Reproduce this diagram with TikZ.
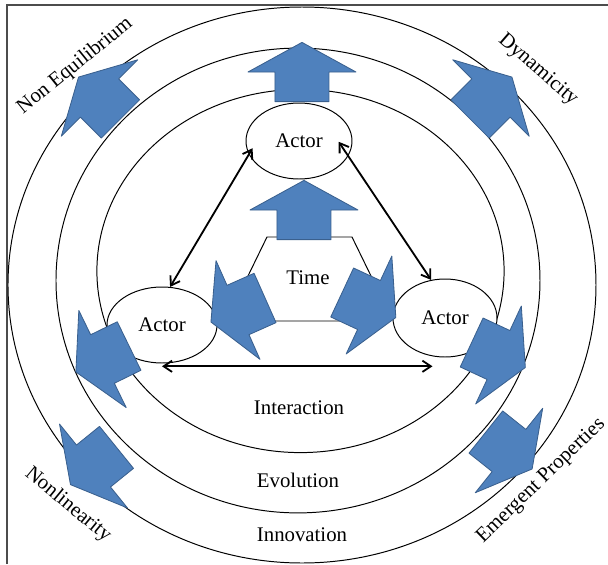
\documentclass[tikz,border=0pt]{standalone}
\usepackage{fontspec}
\setmainfont{Liberation Serif}
\usetikzlibrary{shapes.geometric,arrows.meta}
\definecolor{bluarrow}{RGB}{79,129,189}
\definecolor{bordoarrow}{RGB}{58,96,142}
\tikzset{
  attore/.style={ellipse, draw, fill=white, line width=0.7pt, inner sep=0pt},
  cerchio/.style={line width=0.7pt},
  freccia/.style={<->, line width=1.3pt},
  pics/frecciona/.style={code={
    \filldraw[fill=bluarrow, draw=bordoarrow, line width=0.6pt, line join=round]
      (0.74,0) -- (0,1.35) -- (0,0.675) -- (-0.74,0.675) -- (-0.74,-0.675)
      -- (0,-0.675) -- (0,-1.35) -- cycle;}}
}

\begin{document}
\begin{tikzpicture}[>={Straight Barb[length=6pt,width=8pt]}, font=\fontsize{14.8}{17}\selectfont]
\useasboundingbox (-7.5,-7.1) rectangle (7.7,7.0);

% Cornice
\draw[line width=0.9pt, black!70] (-7.325,-7.1) -- (-7.325,6.875) -- (7.7,6.875);

% Ellissi concentriche
\draw[cerchio] (0.05,-0.125) ellipse (7.35 and 6.95);
\draw[cerchio] (-0.05,-0.0125) ellipse (6.05 and 5.81);
\draw[cerchio] (0.0125,0.225) ellipse (5.09 and 4.54);

% Tempo (esagono)
\draw[cerchio, fill=white] (-0.825,1.075) -- (1.3,1.075) -- (1.8125,0.025)
  -- (1.3,-1.025) -- (-0.825,-1.025) -- (-1.3375,0.025) -- cycle;
\node (time) at (0.2,0.05) {Time};

% Attori
\node[attore, minimum width=2.65cm, minimum height=1.9cm] (actorT) at (-0.025,3.475) {Actor};
\node[attore, minimum width=2.75cm, minimum height=1.9cm] (actorL) at (-3.45,-1.125) {Actor};
\node[attore, minimum width=2.6cm, minimum height=1.95cm] (actorR) at (3.625,-0.95) {Actor};

% Interazioni tra attori
\draw[freccia, shorten <=-0.18cm] (actorT.195) -- (actorL.78);
\draw[freccia, shorten <=-0.43cm] (actorT.343) -- (actorR.110);
\draw[freccia] ([yshift=-2pt]actorL.south) -- ([yshift=-2pt]actorL.south -| actorR.252);

% Frecce blu
\foreach \x/\y/\a in {0.05/5.2/90, -5.0125/4.55/135, 4.775/4.55/45, 0.1/1.75/90,
    -1.55/-0.75/204, 1.725/-0.625/-25, -4.9375/-1.975/206, -5.1625/-4.65/219,
    4.9625/-1.875/-25, 5.225/-4.2625/-38.6}
  \pic[rotate=\a] at (\x,\y) {frecciona};

% Etichette
\node[rotate=39] (noneq) at (-5.625,5.35) {Non Equilibrium};
\node[rotate=-41] (dyn) at (5.95,5.25) {Dynamicity};
\node[rotate=-39.5] (nonlin) at (-5.8,-5.625) {Nonlinearity};
\node[rotate=44] (emerg) at (6.03,-5.02) {Emergent Properties};
\node (interaz) at (-0.025,-3.2) {Interaction};
\node (evol) at (-0.05,-5.0) {Evolution};
\node (innov) at (0.05,-6.375) {Innovation};

\end{tikzpicture}
\end{document}
